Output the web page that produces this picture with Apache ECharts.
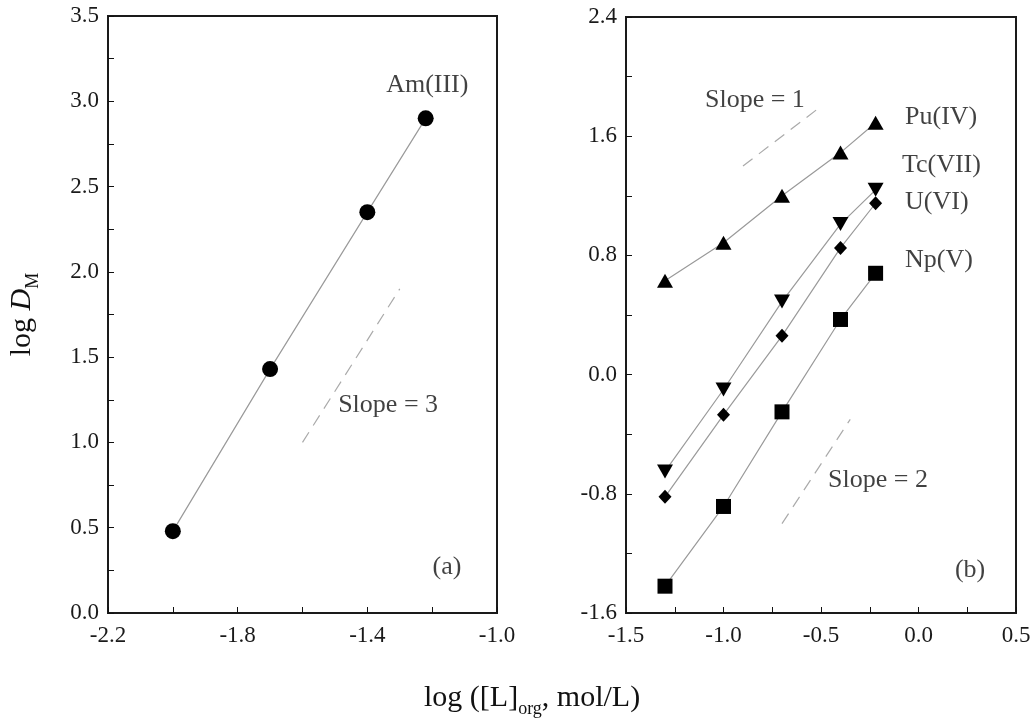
<!DOCTYPE html>
<html>
<head>
<meta charset="utf-8">
<script src="https://cdn.jsdelivr.net/npm/echarts@6/dist/echarts.min.js"></script>
<style>
  html, body { margin: 0; padding: 0; background: #fff; }
  #main { width: 1034px; height: 721px; }
</style>
</head>
<body>
<div id="main"></div>
<script>
// panel (a)
var amX = [-2.0, -1.7, -1.4, -1.22];
var amY = [0.48, 1.43, 2.35, 2.9];
var slope3X = [-1.6, -1.3];
var slope3Y = [1.0, 1.9];

// panel (b)
var xB = [-1.3, -1.0, -0.7, -0.4, -0.22];
var puY = [0.63, 0.885, 1.2, 1.49, 1.69];
var tcY = [-0.65, -0.1, 0.49, 1.01, 1.24];
var uY = [-0.82, -0.27, 0.26, 0.85, 1.15];
var npY = [-1.42, -0.885, -0.25, 0.37, 0.68];
var slope1X = [-0.9, -0.5];
var slope1Y = [1.4, 1.8];
var slope2X = [-0.7, -0.35];
var slope2Y = [-1.0, -0.3];

// text notes, [x, y, text] in data units
var notesA = [[-1.342, 3.095, 'Am(III)'], [-1.49, 1.22, 'Slope = 3'], [-1.199, 0.27, '(a)']];
var notesB = [[-0.069, 1.729, 'Pu(IV)'], [-0.085, 1.407, 'Tc(VII)'], [-0.069, 1.158, 'U(VI)'],
              [-0.069, 0.769, 'Np(V)'], [-1.095, 1.843, 'Slope = 1'], [-0.464, -0.707, 'Slope = 2'],
              [0.187, -1.311, '(b)']];

var FONT = 'Liberation Serif';

function zip(xs, ys) {
    return xs.map(function (x, i) { return [x, ys[i]]; });
}
function fmt(v) {
    if (Math.abs(v) < 1e-9) v = 0;
    return v.toFixed(1);
}

function valAxis(idx, min, max, interval, isX) {
    return {
        type: 'value',
        gridIndex: idx,
        min: min,
        max: max,
        interval: interval,
        axisLine: { show: false, onZero: false },
        axisTick: { show: true, inside: true, length: 6, lineStyle: { color: '#111', width: 1 } },
        minorTick: { show: true, splitNumber: 2, length: 6, lineStyle: { color: '#111', width: 1 } },
        splitLine: { show: false },
        axisLabel: {
            formatter: fmt,
            fontFamily: FONT,
            fontSize: 23,
            color: '#1a1a1a',
            margin: isX ? 11 : 9,
            showMinLabel: true,
            showMaxLabel: true
        }
    };
}

function dataLine(xi, yi, pts, symbol, size, rotate) {
    return {
        type: 'line',
        xAxisIndex: xi,
        yAxisIndex: yi,
        data: pts,
        symbol: symbol,
        symbolSize: size,
        symbolRotate: rotate || 0,
        showAllSymbol: true,
        itemStyle: { color: '#000' },
        lineStyle: { color: '#9a9a9a', width: 1.2 },
        z: 3
    };
}

function dashLine(xi, yi, pts) {
    return {
        type: 'line',
        xAxisIndex: xi,
        yAxisIndex: yi,
        data: pts,
        symbol: 'none',
        lineStyle: { color: '#aaa', width: 1.2, type: [12, 8] },
        z: 2
    };
}

function noteSeries(xi, yi, notes) {
    return {
        type: 'scatter',
        xAxisIndex: xi,
        yAxisIndex: yi,
        symbolSize: 0,
        data: notes.map(function (n) { return { value: [n[0], n[1]], name: n[2] }; }),
        label: {
            show: true,
            position: 'right',
            distance: 0,
            formatter: '{b}',
            fontFamily: FONT,
            fontSize: 26,
            color: '#111'
        },
        silent: true,
        z: 4
    };
}

var chart = echarts.init(document.getElementById('main'));
var option = {
    backgroundColor: '#fff',
    animation: false,
    title: {
        text: '{a|log ([L]}{s|org}{a|, mol/L)}',
        left: 419,
        top: 673,
        textStyle: {
            rich: {
                a: { fontFamily: FONT, fontSize: 30, fontWeight: 'normal', color: '#111', lineHeight: 40 },
                s: { fontFamily: FONT, fontSize: 18, fontWeight: 'normal', color: '#111', lineHeight: 18, verticalAlign: 'bottom' }
            }
        }
    },
    grid: [
        { left: 108, top: 16, width: 389, height: 597, show: true, borderColor: '#1a1a1a', borderWidth: 2 },
        { left: 626, top: 17, width: 390, height: 596, show: true, borderColor: '#1a1a1a', borderWidth: 2 }
    ],
    xAxis: [
        valAxis(0, -2.2, -1.0, 0.4, true),
        valAxis(1, -1.5, 0.5, 0.5, true)
    ],
    yAxis: [
        Object.assign(valAxis(0, 0, 3.5, 0.5, false), {
            name: '{a|log }{i|D}{s|M}',
            nameLocation: 'middle',
            nameGap: 66,
            nameTextStyle: {
                rich: {
                    a: { fontFamily: FONT, fontSize: 30, color: '#111', lineHeight: 40 },
                    i: { fontFamily: FONT, fontSize: 30, fontStyle: 'italic', color: '#111', lineHeight: 40 },
                    s: { fontFamily: FONT, fontSize: 18, color: '#111', lineHeight: 18, verticalAlign: 'bottom' }
                }
            }
        }),
        valAxis(1, -1.6, 2.4, 0.8, false)
    ],
    series: [
        dashLine(0, 0, zip(slope3X, slope3Y)),
        dataLine(0, 0, zip(amX, amY), 'circle', 16),
        noteSeries(0, 0, notesA),

        dashLine(1, 1, zip(slope1X, slope1Y)),
        dashLine(1, 1, zip(slope2X, slope2Y)),
        dataLine(1, 1, zip(xB, puY), 'triangle', [16, 14]),
        dataLine(1, 1, zip(xB, tcY), 'triangle', [16, 14], 180),
        dataLine(1, 1, zip(xB, uY), 'diamond', [13, 14]),
        dataLine(1, 1, zip(xB, npY), 'rect', [15, 15]),
        noteSeries(1, 1, notesB)
    ]
};
chart.setOption(option);
</script>
</body>
</html>
